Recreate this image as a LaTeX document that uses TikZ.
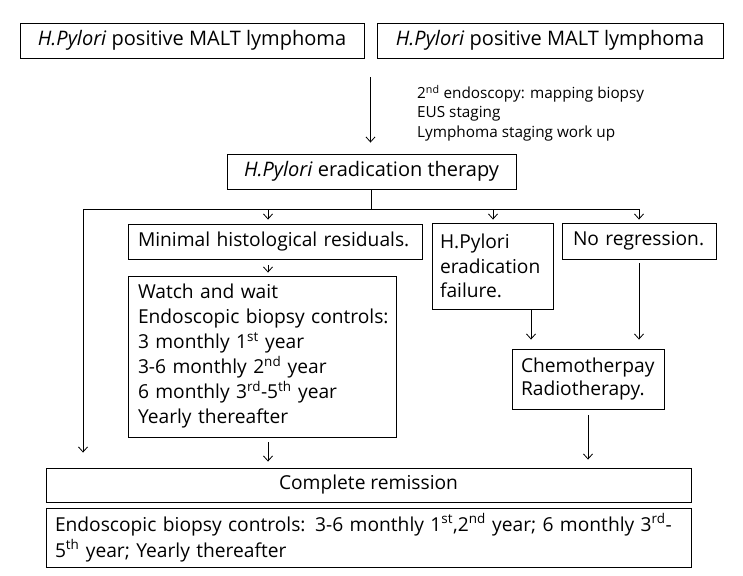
\documentclass[tikz,border=0pt]{standalone}
\usepackage{fontspec}
\setmainfont{Open Sans}
\usetikzlibrary{arrows.meta,calc}
\begin{document}
\begin{tikzpicture}[x=1pt,y=-1pt,
  box/.style={draw, line width=0.9pt, inner sep=0pt, font=\fontsize{19.2}{25}\selectfont},
  tbox/.style={box, font=\fontsize{20}{22}\selectfont},
  lbox/.style={box, align=left},
  arr/.style={-{Straight Barb[length=5pt,width=9pt]}, line width=0.8pt},
  ln/.style={line width=0.8pt}]
\useasboundingbox (0,0) rectangle (743,575);

% top row
\node[tbox, minimum width=344pt, minimum height=35pt] (top1) at (192,40.5) {\textit{H.Pylori} positive MALT lymphoma};
\node[tbox, minimum width=346pt, minimum height=35pt] (top2) at (550,40.5) {\textit{H.Pylori} positive MALT lymphoma};
\coordinate (gap) at ($(top1.south east)!0.5!(top2.south west)$);

\node[anchor=west, align=left, inner sep=0pt, font=\fontsize{15.3}{19.5}\selectfont] (note) at (417,113)
  {2\textsuperscript{nd} endoscopy: mapping biopsy\\EUS staging\\Lymphoma staging work up};

\node[tbox, minimum width=289pt, minimum height=35pt] (erad) at (371.5,171.5) {\textit{H.Pylori} eradication therapy};
\draw[arr, shorten <=19pt, shorten >=11pt] (gap) -- (gap |- erad.north);

% bus
\coordinate (bc) at (371,209);
\coordinate (bl) at (83,209);
\coordinate (b1) at (268,209);
\coordinate (b3) at (493,209);
\coordinate (b4) at (639,209);
\draw[ln] (erad.south -| bc) -- (bc);
\draw[ln] (bl) -- (b4);

% second row
\node[lbox, text width=274pt, inner xsep=10pt, minimum height=35pt] (minres) at (275,241.5) {\mbox{Minimal histological residuals.}};
\node[lbox, text width=248pt, inner xsep=10pt, minimum height=161pt] (watch) at (262,356.5)
  {\mbox{Watch and wait}\\\mbox{Endoscopic biopsy controls:}\\\mbox{3 monthly 1\textsuperscript{st} year}\\\mbox{3-6 monthly 2\textsuperscript{nd} year}\\\mbox{6 monthly 3\textsuperscript{rd}-5\textsuperscript{th} year}\\\mbox{Yearly thereafter}};
\node[lbox, text width=105pt, inner xsep=8pt, minimum height=86pt, font=\fontsize{19.2}{24.5}\selectfont] (fail) at (492.5,266)
  {\mbox{H.Pylori}\\\mbox{eradication}\\\mbox{failure.}};
\node[lbox, text width=132pt, inner xsep=11pt, minimum height=36pt] (noreg) at (639,241) {\mbox{No regression.}};
\node[lbox, text width=134pt, inner xsep=9pt, minimum height=60pt, font=\fontsize{19.2}{23}\selectfont] (chemo) at (588,379)
  {\mbox{Chemotherpay}\\\mbox{Radiotherapy.}};

% bottom
\node[box, minimum width=645pt, minimum height=34pt] (cr) at (368.5,485) {Complete remission};
\node[lbox, text width=627pt, inner xsep=9pt, minimum height=59pt, font=\fontsize{19.2}{26}\selectfont] (final) at (368.5,537.5)
  {\mbox{Endoscopic biopsy controls: 3-6 monthly 1\textsuperscript{st},2\textsuperscript{nd} year; 6 monthly 3\textsuperscript{rd}-}\\\mbox{5\textsuperscript{th} year; Yearly thereafter}};

% arrows
\draw[arr, shorten >=4pt] (b1) -- (b1 |- minres.north);
\draw[arr, shorten <=6pt, shorten >=3pt] (b1 |- minres.south) -- (b1 |- watch.north);
\draw[arr, shorten <=5pt, shorten >=6pt] (b1 |- watch.south) -- (b1 |- cr.north);
\draw[arr, shorten >=3pt] (b3) -- (b3 |- fail.north);
\draw[arr, shorten >=3pt] (b4) -- (b4 |- noreg.north);
\coordinate (fx) at (531,0);
\draw[arr, shorten >=9pt] (fx |- fail.south) -- (fx |- chemo.north);
\draw[arr, shorten <=4pt, shorten >=9pt] (b4 |- noreg.south) -- (b4 |- chemo.north);
\draw[arr, shorten <=6pt, shorten >=8pt] (chemo.south) -- (chemo.south |- cr.north);
\draw[arr, shorten >=15pt] (bl) -- (bl |- cr.north);
\end{tikzpicture}
\end{document}
